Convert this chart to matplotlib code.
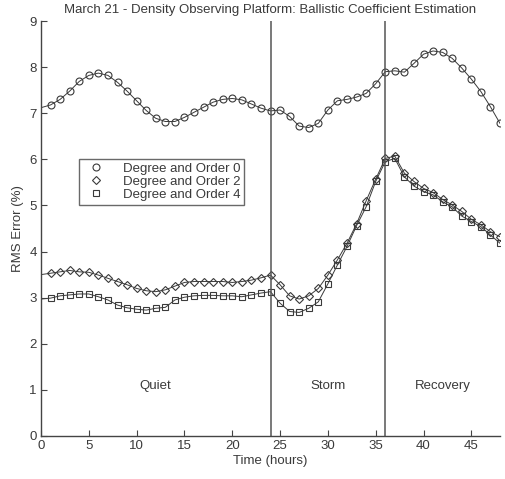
import numpy as np
import matplotlib.pyplot as plt
from matplotlib.lines import Line2D

plt.rcParams['font.family'] = ['Liberation Sans', 'DejaVu Sans']

hours = np.arange(0, 49)

# Degree and Order 0 (top curve), hours 0..48
rms_deg0 = [7.12, 7.18, 7.30, 7.48, 7.69, 7.82, 7.87, 7.82, 7.67, 7.48,
            7.27, 7.06, 6.89, 6.82, 6.82, 6.91, 7.02, 7.13, 7.24, 7.30,
            7.32, 7.29, 7.20, 7.11, 7.05, 7.07, 6.93, 6.72, 6.69, 6.78,
            7.07, 7.27, 7.30, 7.35, 7.43, 7.64, 7.90, 7.92, 7.89, 8.08,
            8.28, 8.35, 8.32, 8.19, 7.98, 7.74, 7.47, 7.14, 6.78]

# Degree and Order 2
rms_deg2 = [3.50, 3.53, 3.56, 3.59, 3.56, 3.55, 3.49, 3.42, 3.35, 3.28,
            3.20, 3.15, 3.13, 3.17, 3.25, 3.33, 3.35, 3.35, 3.35, 3.35,
            3.33, 3.35, 3.38, 3.43, 3.49, 3.28, 3.04, 2.97, 3.04, 3.20,
            3.49, 3.82, 4.18, 4.60, 5.10, 5.57, 6.02, 6.07, 5.70, 5.52,
            5.37, 5.28, 5.13, 5.01, 4.87, 4.70, 4.58, 4.43, 4.32]

# Degree and Order 4
rms_deg4 = [2.97, 2.99, 3.04, 3.06, 3.08, 3.08, 3.02, 2.95, 2.84, 2.78,
            2.75, 2.73, 2.77, 2.79, 2.95, 3.01, 3.04, 3.05, 3.05, 3.04,
            3.04, 3.02, 3.06, 3.10, 3.13, 2.88, 2.70, 2.68, 2.77, 2.91,
            3.30, 3.71, 4.11, 4.56, 4.97, 5.52, 5.95, 6.02, 5.62, 5.42,
            5.30, 5.23, 5.08, 4.97, 4.77, 4.65, 4.54, 4.36, 4.18]

series = [
    (rms_deg0, 'o', 'Degree and Order 0'),
    (rms_deg2, 'D', 'Degree and Order 2'),
    (rms_deg4, 's', 'Degree and Order 4'),
]
phase_bounds = [24, 36]
phase_names = ['Quiet', 'Storm', 'Recovery']
phase_centers = [12, 30, 42]

ink = '#3a3a3a'
fs = 9.5

fig = plt.figure(figsize=(5.05, 4.79), dpi=100)
ax = fig.add_axes([41 / 505, 1 - 436 / 479, 459 / 505, 415 / 479])

handles = []
for vals, mk, lab in series:
    msize = 4.0 if mk == 'D' else 5.0
    ax.plot(hours, vals, color=ink, lw=0.7, marker=mk, ms=msize,
            mfc='none', mec=ink, mew=0.8, markevery=slice(1, None))
    handles.append(Line2D([], [], ls='none', marker=mk, ms=msize,
                          mfc='none', mec=ink, mew=0.8, label=lab))

for b in phase_bounds:
    ax.axvline(b, color='#555555', lw=1.1)

for name, xc in zip(phase_names, phase_centers):
    ax.text(xc, 1.08, name, ha='center', va='center', fontsize=fs, color=ink)

ax.set_xlim(0, 48)
ax.set_ylim(0, 9)
ax.set_xticks(range(0, 46, 5))
ax.set_yticks(range(0, 10))
ax.spines['top'].set_visible(False)
ax.spines['right'].set_visible(False)
for s in ('left', 'bottom'):
    ax.spines[s].set_color('#444444')
    ax.spines[s].set_linewidth(1.0)
ax.tick_params(direction='in', length=4, labelsize=fs, colors='#444444',
               labelcolor=ink, pad=3)

ax.set_title('March 21 - Density Observing Platform: Ballistic Coefficient Estimation',
             fontsize=fs, color=ink, pad=6)
ax.set_xlabel('Time (hours)', fontsize=fs, color=ink, labelpad=2)
ax.set_ylabel('RMS Error (%)', fontsize=fs, color=ink, labelpad=4)

leg = ax.legend(handles=handles, loc='upper left', bbox_to_anchor=(0.083, 0.668),
                fontsize=fs, frameon=True, fancybox=False, borderpad=0.3,
                labelspacing=0.05, handletextpad=1.0, handlelength=2.0,
                borderaxespad=0)
leg.get_frame().set_edgecolor('#444444')
leg.get_frame().set_linewidth(1.0)
for t in leg.get_texts():
    t.set_color(ink)

fig.savefig('out.png', dpi=100)
